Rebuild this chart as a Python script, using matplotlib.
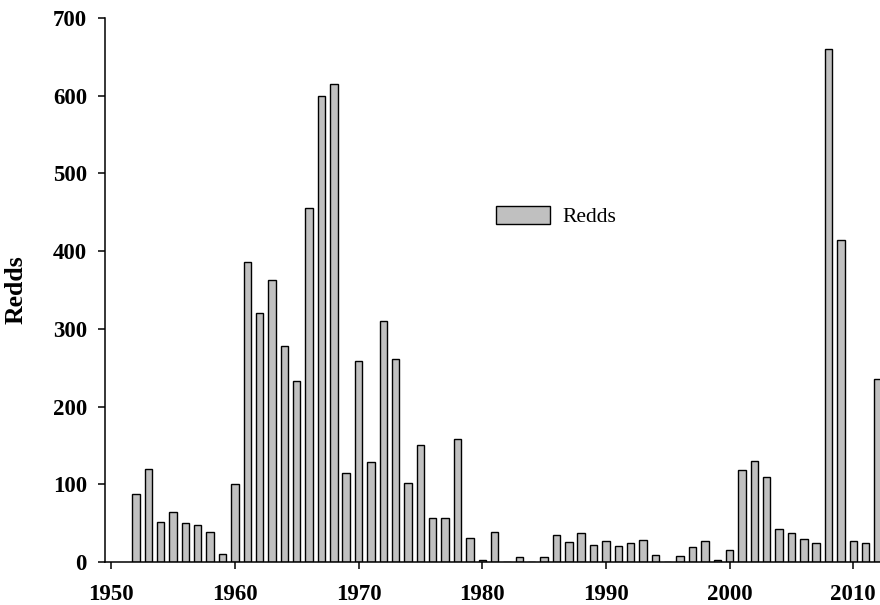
import matplotlib.pyplot as plt
import numpy as np

# Annual redd counts, 1952-2012
years = np.arange(1952, 2013)
redds = [
    87, 120, 51, 64, 50, 48, 38, 10, 101,            # 1952-1960
    386, 321, 363, 278, 233, 455, 599, 615, 114, 258,  # 1961-1970
    129, 310, 261, 102, 150, 56, 56, 158, 31, 2,       # 1971-1980
    39, 0, 7, 0, 6, 35, 26, 37, 22, 27,                # 1981-1990
    20, 25, 28, 9, 0, 8, 19, 27, 2, 15,                # 1991-2000
    119, 130, 110, 43, 37, 29, 25, 660, 414, 27,       # 2001-2010
    24, 235,                                           # 2011-2012
]
xticks = [1950, 1960, 1970, 1980, 1990, 2000, 2010]
yticks = [0, 100, 200, 300, 400, 500, 600, 700]

plt.rcParams["font.family"] = ["Liberation Serif", "DejaVu Serif"]

fig = plt.figure(figsize=(8.8, 6.05), dpi=100)
ax = fig.add_axes([105 / 880, 1 - 562 / 605, 1 - 105 / 880, (562 - 18) / 605])

ax.bar(years, redds, width=0.6, color="#c0c0c0", edgecolor="black",
       linewidth=1.0, label="Redds")

ax.set_xlim(1949.5, 2012.16)
ax.set_ylim(0, 700)
ax.set_xticks(xticks)
ax.set_yticks(yticks)
ax.tick_params(direction="out", length=5, width=1.1, labelsize=16.5)
ax.tick_params(axis="x", pad=11)
ax.tick_params(axis="y", pad=8)
for lbl in ax.get_xticklabels() + ax.get_yticklabels():
    lbl.set_fontweight("bold")

for side in ("top", "right"):
    ax.spines[side].set_visible(False)
for side in ("left", "bottom"):
    ax.spines[side].set_linewidth(1.1)

ax.set_ylabel("Redds", fontsize=18.5, fontweight="bold", labelpad=18)

ax.legend(loc="center", bbox_to_anchor=(0.582, 0.635), frameon=False,
          fontsize=15.5, handlelength=2.5, handleheight=0.9, handletextpad=0.6)

fig.savefig("out.png", dpi=100)
